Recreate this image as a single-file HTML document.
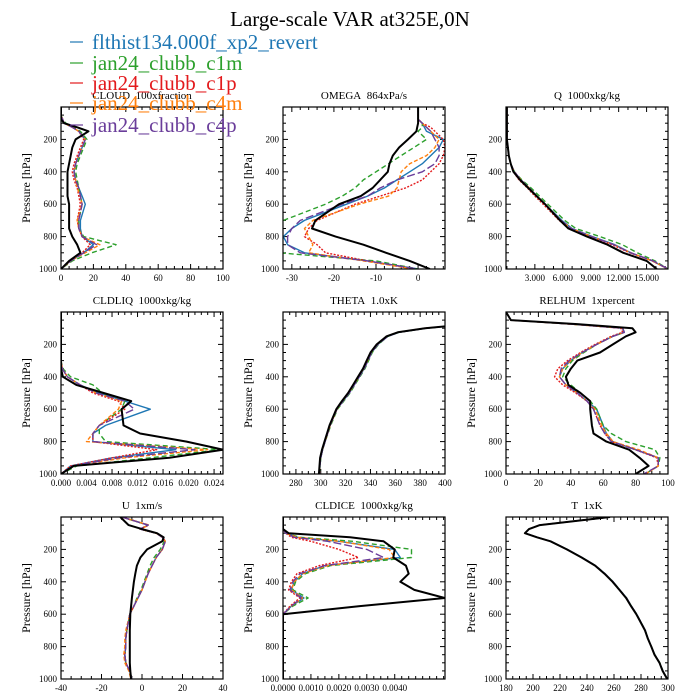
<!DOCTYPE html>
<html><head><meta charset="utf-8"><style>
body{margin:0;background:#fff;}
svg{display:block;font-family:"Liberation Serif",serif;}
</style></head><body>
<svg id="chart" width="700" height="700" viewBox="0 0 700 700">
<text x="350" y="26" text-anchor="middle" font-size="21">Large-scale VAR at325E,0N</text>
</svg>
<script>
const P = [0,50,75,100,125,150,200,250,300,350,400,450,500,550,600,700,750,800,850,900,950,1000];
const seriesNames = ["flthist134.000f_xp2_revert","jan24_clubb_c1m","jan24_clubb_c1p","jan24_clubb_c4m","jan24_clubb_c4p"];

const cloud_ctrl=[0,0,0,2,10,17,9,7,6,5,4,4,4,4,5,5,5,7,10,12,5,0];
const cloud_xp2=[0,0,1,2,7,11,15,13,11,9,8,9,11,13,15,12,12,13,20,14,6,0];
const cloud_c1m=[0,0,1,3,8,12,16,14,12,10,9,10,11,12,13,11,11,14,34,19,7,0];
const cloud_c1p=[0,0,1,2,7,11,14,12,10,8,7,8,10,11,12,10,11,13,18,13,6,0];
const cloud_c4m=[0,0,1,2,7,11,15,13,11,9,8,9,10,12,13,10,11,13,24,15,6,0];
const cloud_c4p=[0,0,1,2,7,11,15,13,11,9,8,9,11,12,13,11,11,13,22,14,6,0];

const omega_ctrl=[0,0,0,0,-0.2,-0.4,-2.4,-4.5,-6,-6.8,-7.2,-9,-10.8,-13.6,-18.8,-24.4,-25.2,-19.6,-13,-7.6,-2,2.8];
const omega_xp2=[0,0,0,1,1.5,2,6,5,3,1,-2,-5,-8,-12,-17,-27,-30,-32,-31,-27,-12,0];
const omega_c1m=[0,0,0,1,1,0,2,-1,-4,-7,-10,-13,-15,-18,-22,-32,-33,-33,-33,-33,-10,0];
const omega_c1p=[0,0,0,1,3,4,6,6.4,6,5,3,1,-3,-9,-15,-24,-26,-27,-24,-22,-12,-1];
const omega_c4m=[0,0,0,1,2,3,5,4,2,-2,-4,-4.5,-5,-7,-14,-25,-27,-26,-25,-26,-13,-1];
const omega_c4p=[0,0,0,1,2,3,4,5,5,4,1,-5,-9,-12,-18,-28,-30,-31,-31,-28,-12,0];

const q_ctrl=[0,0,0,0,0,0,0,0.1,0.2,0.4,0.7,1.4,2.3,3.2,4.1,5.7,6.6,8.6,10.8,12.5,15,16.1];
const q_xp2=[0,0,0,0,0,0,0,0.1,0.2,0.4,0.8,1.5,2.4,3.2,4.1,5.9,7,9.2,11.6,13.3,15.6,17.3];
const q_c1m=[0,0,0,0,0,0,0,0.1,0.2,0.4,0.8,1.6,2.6,3.5,4.4,6.2,7.4,10,12.4,14,15.9,17.3];
const q_c1p=[0,0,0,0,0,0,0,0.1,0.2,0.4,0.7,1.3,2.2,3.0,3.9,5.6,6.7,9.0,11.3,13.2,15.6,17.3];
const q_c4m=[0,0,0,0,0,0,0,0.1,0.2,0.4,0.8,1.5,2.4,3.2,4.1,5.8,6.9,9.1,11.5,13.3,15.6,17.3];
const q_c4p=[0,0,0,0,0,0,0,0.1,0.2,0.4,0.8,1.5,2.4,3.2,4.1,5.8,6.9,9.1,11.5,13.3,15.7,17.3];

const liq_ctrl=[0,0,0,0,0,0,0,0,0,0,0.3,2.4,6.7,11,9.5,9.8,12.4,19.7,25.4,17,2,0];
const liq_xp2=[0,0,0,0,0,0,0,0,0,0.2,1,3,6,10,14,7,5,5,18,8,1.5,0];
const liq_c1m=[0,0,0,0,0,0,0,0,0,0.3,1.5,5,6.5,10,9.5,6,6,7,25,14,2.5,0];
const liq_c1p=[0,0,0,0,0,0,0,0,0,0.2,1,3,5,9,10,6,5,5,15,8,1.5,0];
const liq_c4m=[0,0,0,0,0,0,0,0,0,0.2,1,3,5.5,9.5,9,6,5,4,23,10,2,0];
const liq_c4p=[0,0,0,0,0,0,0,0,0,0.2,1,3,5.5,10,11.5,6,5,5,21,9,1.8,0];

const theta_ctrl=[600,480,420,384,362,353,345,340,337,334,330,326,322,317,312.5,307,305,303,301,299.5,299,298.5];
const theta_xp2=[600,480,421,385,363,354,346,341,338,335,331,327,323,318,313,307.5,305.5,303.5,301.5,300,299.3,298.8];
const theta_c1m=[600,480,421,385,363,354,346.5,341.5,338.5,335.5,331.5,327.5,323.5,318.5,313.5,308,305.8,303.5,301.5,300,299.4,299];
const theta_c1p=[600,480,420,384,362,353,345.5,340.5,337.5,334.5,330.5,326.5,322.5,317.5,313,307.5,305.5,303.3,301.3,299.8,299.2,298.8];
const theta_c4m=[600,480,420,384,362,353,345.5,340.5,337.5,334.5,330.5,326.5,322.5,317.5,313,307.5,305.5,303.3,301.3,299.8,299.2,298.8];
const theta_c4p=[600,480,421,385,363,354,346,341,338,335,331,327,323,318,313,307.5,305.5,303.5,301.5,300,299.3,298.8];

const rh_ctrl=[0,3,44,78,80,74,66,58,44,40,37,38.5,46,52,52,53,54,62,76,82.5,88,80];
const rh_xp2=[0,3,40,72,73,66,56,47,40,35,33,37,44,50,56,60,62,66,80,94,94,86];
const rh_c1m=[0,3,40,72,73,66,56,48,41,37,35,40,46,52,56,60,65,74,92,95,94,86];
const rh_c1p=[0,3,40,71,72,65,55,46,38,32,30,35,43,50,54,58,61,65,80,93,94,86];
const rh_c4m=[0,3,40,72,73,66,56,47,40,35,33,37,44,50,55,59,62,66,82,94,94,86];
const rh_c4p=[0,3,40,72,73,66,56,47,39,34,33,37,44,50,54,58,61,65,80,94,94,85];

const u_ctrl=[-10.7,-6.6,0,7.4,10.7,10,2.5,-0.8,-2.5,-3.3,-4,-4.5,-5,-5.4,-5.8,-6,-6,-6,-6,-6,-5.8,-5.4];
const u_xp2=[-10,3,-1,7,10,11.5,10,7,5,3,1.5,0,-2,-4,-6,-7.5,-8,-8,-8.5,-8,-6,-5];
const u_c1m=[-10,3,-1,7,10,11,9,6,4,2.5,1,-0.5,-2.5,-4,-6,-7.5,-8,-8,-8.5,-8,-6,-5];
const u_c1p=[-10,3,-1,7,10,11.5,10,7,5,3,1.5,0,-2,-4,-6,-7.5,-8,-8,-8.5,-8,-6,-5];
const u_c4m=[-10,3.5,-1,7,10,11.5,10,7,5,3,1.5,0,-2,-4,-6,-8,-8.5,-8.5,-9,-8.5,-6.5,-5.5];
const u_c4p=[-10,3,-1,7,10,11.5,10,7,5,3,1.5,0,-2,-4,-6,-7.5,-8,-8,-8.5,-8,-6,-5];

const ice_ctrl=[0,0,0,0.2,2.4,3.6,4.0,3.95,4.4,4.5,4.2,4.7,5.8,2.75,0,0,0,0,0,0,0,0];
const ice_xp2=[0,0,0,0.1,0.5,2,4.0,4.2,1.5,0.7,0.4,0.3,0.75,0.3,0,0,0,0,0,0,0,0];
const ice_c1m=[0,0,0,0.1,0.6,2.5,4.6,4.6,1.7,0.8,0.45,0.35,0.9,0.35,0,0,0,0,0,0,0,0];
const ice_c1p=[0,0,0,0.1,0.3,1,2.0,2.7,1.3,0.5,0.3,0.2,0.6,0.25,0,0,0,0,0,0,0,0];
const ice_c4m=[0,0,0,0.1,0.5,2,3.8,4.0,1.6,0.7,0.4,0.3,0.7,0.3,0,0,0,0,0,0,0,0];
const ice_c4p=[0,0,0,0.1,0.4,1.6,3.0,3.6,1.5,0.6,0.35,0.25,0.65,0.3,0,0,0,0,0,0,0,0];

const t_ctrl=[257,205,197,194,203,213,225,236,246,253,259,264,269,272.6,276.5,283,285,287.6,290,293.7,296,299.4];
const t_xp2=[257,205,197,194.3,203,213,225.3,236.3,246.3,253.3,259.3,264.3,269.3,272.9,276.8,283.2,285.2,287.6,290.2,293.7,296.2,299.5];
const t_c1m=[257,205,197,194.3,203,213,225.3,236.3,246.3,253.3,259.3,264.3,269.3,272.9,276.8,283.2,285.2,287.8,290.2,293.9,296.2,299.5];
const t_c1p=[257,205,197,194,203,213,225,236,246,253,259,264,269,272.6,276.5,283,285,287.6,290,293.7,296,299.4];
const t_c4m=[257,205,197,194,203,213,225,236,246,253,259,264,269,272.6,276.5,283,285,287.6,290,293.7,296,299.4];
const t_c4p=[257,205,197,194.3,203,213,225.3,236.3,246.3,253.3,259.3,264.3,269.3,272.9,276.8,283.2,285.2,287.6,290.2,293.7,296.2,299.5];

const cloudTicks=[0,20,40,60,80,100];
const omegaTicks=[-30,-20,-10,0];
const qTicks=[3,6,9,12,15];
const qTickLabels=["3.000","6.000","9.000","12.000","15.000"];
const liqTicks=[0,4,8,12,16,20,24];
const liqTickLabels=["0.000","0.004","0.008","0.012","0.016","0.020","0.024"];
const thetaTicks=[280,300,320,340,360,380,400];
const rhTicks=[0,20,40,60,80,100];
const uTicks=[-40,-20,0,20,40];
const iceTicks=[0,1,2,3,4];
const iceTickLabels=["0.0000","0.0010","0.0020","0.0030","0.0040"];
const tTicks=[180,200,220,240,260,280,300];
const pTicks=[200,400,600,800,1000];

const NS="http://www.w3.org/2000/svg";
const svg=document.getElementById('chart');
function mk(tag,attrs,parent){const e=document.createElementNS(NS,tag);for(const k in attrs)e.setAttribute(k,attrs[k]);(parent||svg).appendChild(e);return e;}

const colors=["#1f77b4","#2ca02c","#e31a1c","#ff7f0e","#6a3d9a"];
const dashes=["none","5,3","2,1.5","4,2","8,3"];
const S="\u00a0\u00a0";
const panels=[
 {id:"cloud",title:"CLOUD"+S+"100xfraction",xmin:0,xmax:100,ticks:cloudTicks,labels:null,minor:5,series:[cloud_xp2,cloud_c1m,cloud_c1p,cloud_c4m,cloud_c4p],ctrl:cloud_ctrl},
 {id:"omega",title:"OMEGA"+S+"864xPa/s",xmin:-32.1,xmax:6.4,ticks:omegaTicks,labels:null,minor:2,series:[omega_xp2,omega_c1m,omega_c1p,omega_c4m,omega_c4p],ctrl:omega_ctrl},
 {id:"q",title:"Q"+S+"1000xkg/kg",xmin:-0.1,xmax:17.3,ticks:qTicks,labels:qTickLabels,minor:1,series:[q_xp2,q_c1m,q_c1p,q_c4m,q_c4p],ctrl:q_ctrl},
 {id:"cldliq",title:"CLDLIQ"+S+"1000xkg/kg",xmin:0,xmax:25.4,ticks:liqTicks,labels:liqTickLabels,minor:1,series:[liq_xp2,liq_c1m,liq_c1p,liq_c4m,liq_c4p],ctrl:liq_ctrl},
 {id:"theta",title:"THETA"+S+"1.0xK",xmin:269.6,xmax:400,ticks:thetaTicks,labels:null,minor:5,series:[theta_xp2,theta_c1m,theta_c1p,theta_c4m,theta_c4p],ctrl:theta_ctrl},
 {id:"relhum",title:"RELHUM"+S+"1xpercent",xmin:0,xmax:100,ticks:rhTicks,labels:null,minor:5,series:[rh_xp2,rh_c1m,rh_c1p,rh_c4m,rh_c4p],ctrl:rh_ctrl},
 {id:"u",title:"U"+S+"1xm/s",xmin:-40,xmax:40,ticks:uTicks,labels:null,minor:5,series:[u_xp2,u_c1m,u_c1p,u_c4m,u_c4p],ctrl:u_ctrl},
 {id:"cldice",title:"CLDICE"+S+"1000xkg/kg",xmin:0,xmax:5.8,ticks:iceTicks,labels:iceTickLabels,minor:0.25,series:[ice_xp2,ice_c1m,ice_c1p,ice_c4m,ice_c4p],ctrl:ice_ctrl},
 {id:"t",title:"T"+S+"1xK",xmin:180,xmax:300,ticks:tTicks,labels:null,minor:5,series:[t_xp2,t_c1m,t_c1p,t_c4m,t_c4p],ctrl:t_ctrl}
];
const colX=[61,283,506], rowY=[107,312,517], W=162, H=162;
const defs=mk('defs',{});

panels.forEach((pn,i)=>{
  const x0=colX[i%3], y0=rowY[Math.floor(i/3)];
  const g=mk('g',{});
  
  
  const sx=v=>x0+(v-pn.xmin)/(pn.xmax-pn.xmin)*W;
  const sy=p=>y0+p/1000*H;
  const cp=mk('clipPath',{id:'clip'+i},defs);
  mk('rect',{x:x0,y:y0,width:W,height:H},cp);
  const t=mk('text',{x:x0+W/2,y:y0-8,'text-anchor':'middle','font-size':11},g);
  t.textContent=pn.title;
  
  
  const yl=mk('text',{x:0,y:0,'text-anchor':'middle','font-size':12,transform:`translate(${x0-31},${y0+H/2}) rotate(-90)`},g);
  yl.textContent="Pressure [hPa]";
  
  
  const tk=mk('g',{stroke:'#000','stroke-width':1},g);
  for(let p=50;p<1000;p+=50){const mj=p%200===0;const l=mj?5:3;
    mk('line',{x1:x0,y1:sy(p),x2:x0+l,y2:sy(p)},tk);mk('line',{x1:x0+W,y1:sy(p),x2:x0+W-l,y2:sy(p)},tk);}
  pTicks.forEach(p=>{const tl=mk('text',{x:x0-4,y:sy(p)+3,'text-anchor':'end','font-size':9},g);tl.textContent=p;
    
    });
  const m0=Math.ceil(pn.xmin/pn.minor)*pn.minor;
  for(let v=m0;v<=pn.xmax+1e-9;v+=pn.minor){const X=sx(v);if(X<=x0+0.5||X>=x0+W-0.5)continue;
    const mj=pn.ticks.some(tv=>Math.abs(tv-v)<1e-6);const l=mj?5:3;
    mk('line',{x1:X,y1:y0+H,x2:X,y2:y0+H-l},tk);mk('line',{x1:X,y1:y0,x2:X,y2:y0+l},tk);}
  pn.ticks.forEach((v,k)=>{const tl=mk('text',{x:sx(v),y:y0+H+12,'text-anchor':'middle','font-size':9},g);
    tl.textContent=pn.labels?pn.labels[k]:v;
    
    });
  const lines=mk('g',{'clip-path':`url(#clip${i})`,fill:'none','stroke-linejoin':'round'},g);
  pn.series.forEach((arr,k)=>{
    const d=arr.map((v,j)=>(j?'L':'M')+sx(v).toFixed(1)+','+sy(P[j]).toFixed(1)).join('');
    const pa=mk('path',{d:d,stroke:colors[k],'stroke-width':1.4,'stroke-dasharray':dashes[k]},lines);
    
    
  });
  const d=pn.ctrl.map((v,j)=>(j?'L':'M')+sx(v).toFixed(1)+','+sy(P[j]).toFixed(1)).join('');
  const pc=mk('path',{d:d,stroke:'#000','stroke-width':2},lines);
  
  
  const fr=mk('rect',{x:x0,y:y0,width:W,height:H,fill:'none',stroke:'#000','stroke-width':1.2},g);
  
  
});

const lg=mk('g',{});


const legY=[42,63,83,103,125];
seriesNames.forEach((n,k)=>{
  const e=mk('g',{},lg);
  
  
  mk('line',{x1:70,x2:83,y1:legY[k],y2:legY[k],stroke:colors[k],'stroke-width':1.2},e);
  const t=mk('text',{x:92,y:legY[k]+7,'font-size':21,fill:colors[k]},e);
  t.textContent=n;
});
</script>
</body></html>
